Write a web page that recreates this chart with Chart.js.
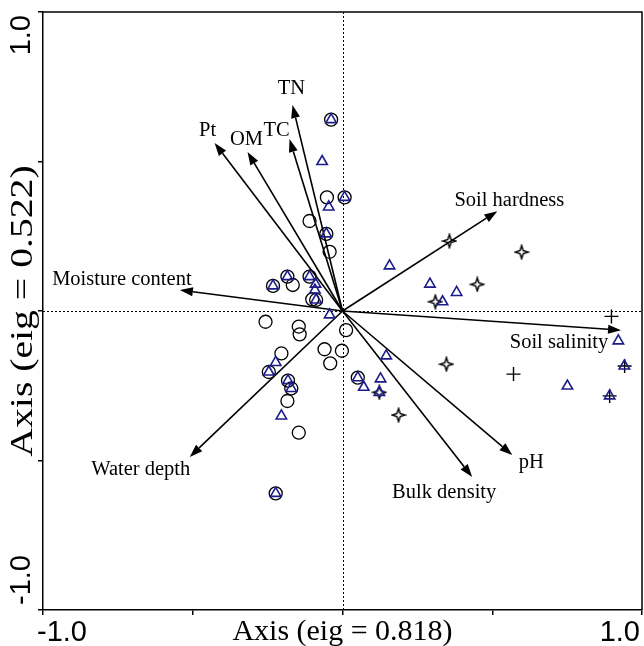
<!DOCTYPE html>
<html>
<head>
<meta charset="utf-8">
<script src="https://cdn.jsdelivr.net/npm/chart.js@4.4.0/dist/chart.umd.min.js"></script>
<style>
html, body { margin: 0; padding: 0; background: #fff; }
#wrap { width: 644px; height: 646px; }
</style>
</head>
<body>
<div id="wrap"><canvas id="cca"></canvas></div>
<script>
// site scores (axis 1, axis 2)
const circleX = [-0.038, -0.052, 0.007, -0.110, -0.054, -0.043, -0.184, -0.166, -0.232, -0.110, -0.101, -0.088, -0.257, -0.146, -0.143, 0.012, -0.060, -0.002, -0.041, -0.204, -0.246, -0.182, -0.171, -0.184, -0.146, -0.223, 0.051];
const circleY = [0.640, 0.380, 0.380, 0.301, 0.258, 0.198, 0.115, 0.087, 0.084, 0.115, 0.039, 0.037, -0.036, -0.052, -0.078, -0.064, -0.128, -0.133, -0.175, -0.142, -0.204, -0.233, -0.259, -0.301, -0.407, -0.610, -0.223];

const triX = [-0.038, -0.068, 0.007, -0.046, -0.054, -0.184, -0.232, -0.110, -0.090, -0.092, -0.088, -0.043, -0.223, -0.246, -0.182, -0.171, -0.204, -0.223, 0.051, 0.071, 0.127, 0.123, 0.146, 0.157, 0.292, 0.381, 0.334, 0.921, 0.941, 0.751, 0.892];
const triY = [0.640, 0.500, 0.380, 0.348, 0.258, 0.115, 0.084, 0.115, 0.090, 0.070, 0.037, -0.013, -0.172, -0.204, -0.233, -0.259, -0.351, -0.610, -0.223, -0.255, -0.227, -0.272, -0.150, 0.151, 0.090, 0.062, 0.031, -0.100, -0.184, -0.251, -0.284];

const starX = [0.357, 0.598, 0.450, 0.310, 0.347, 0.123, 0.187];
const starY = [0.234, 0.197, 0.089, 0.031, -0.178, -0.272, -0.348];

const plusX = [0.898, 0.571, 0.942, 0.892];
const plusY = [-0.018, -0.211, -0.184, -0.284];

// environmental variables (arrow tips)
const envNames = ['TN', 'TC', 'OM', 'Pt', 'Moisture content', 'Water depth', 'Soil hardness', 'Soil salinity', 'pH', 'Bulk density'];
const envX = [-0.167, -0.177, -0.317, -0.427, -0.543, -0.510, 0.517, 0.930, 0.567, 0.433];
const envY = [0.689, 0.575, 0.532, 0.562, 0.070, -0.488, 0.334, -0.064, -0.482, -0.555];

const tickLabels = ['-1.0', '1.0'];
const xTitle = 'Axis (eig = 0.818)';
const yTitle = 'Axis (eig = 0.522)';

// where each arrow label sits relative to its tip (px)
const labelOffsets = [[-1, -16], [-13, -8], [-1, -12], [-7, -12], [-58, -10], [-49, 13], [12, -11], [-62, 12], [19, 7], [-28, 16]];

const toPts = (xs, ys) => xs.map((x, i) => ({ x: x, y: ys[i] }));

function makeStar() {
    const c = document.createElement('canvas');
    c.width = 16; c.height = 16;
    const g = c.getContext('2d');
    g.strokeStyle = '#000';
    g.lineWidth = 1.5;
    g.beginPath();
    for (let i = 0; i < 8; i++) {
        const a = -Math.PI / 2 + i * Math.PI / 4;
        const r = i % 2 === 0 ? 6.5 : 2.3;
        const px = 8 + r * Math.cos(a), py = 8 + r * Math.sin(a);
        if (i === 0) g.moveTo(px, py); else g.lineTo(px, py);
    }
    g.closePath();
    g.stroke();
    return c;
}

const serif = '"Liberation Serif", "Times New Roman", serif';
const sans = '"Liberation Sans", Arial, sans-serif';

const ccaPlugin = {
    id: 'ccaPlugin',
    beforeDatasetsDraw(chart) {
        const ctx = chart.ctx;
        const xs = chart.scales.x, ys = chart.scales.y;
        const a = chart.chartArea;
        const x0 = xs.getPixelForValue(0), y0 = ys.getPixelForValue(0);
        ctx.save();
        // dotted zero lines
        ctx.strokeStyle = '#000';
        ctx.lineWidth = 1;
        ctx.setLineDash([2, 2]);
        ctx.beginPath();
        ctx.moveTo(Math.round(x0) + 0.5, a.top);
        ctx.lineTo(Math.round(x0) + 0.5, a.bottom);
        ctx.moveTo(a.left, Math.round(y0) + 0.5);
        ctx.lineTo(a.right, Math.round(y0) + 0.5);
        ctx.stroke();
        ctx.setLineDash([]);
        // arrows
        ctx.lineWidth = 1.6;
        ctx.fillStyle = '#000';
        envX.forEach((vx, i) => {
            const tx = xs.getPixelForValue(vx), ty = ys.getPixelForValue(envY[i]);
            const ang = Math.atan2(ty - y0, tx - x0);
            const hl = 13, hw = 4.5;
            const bx = tx - hl * Math.cos(ang), by = ty - hl * Math.sin(ang);
            ctx.beginPath();
            ctx.moveTo(x0, y0);
            ctx.lineTo(bx, by);
            ctx.stroke();
            ctx.beginPath();
            ctx.moveTo(tx, ty);
            ctx.lineTo(bx + hw * Math.sin(ang), by - hw * Math.cos(ang));
            ctx.lineTo(bx - hw * Math.sin(ang), by + hw * Math.cos(ang));
            ctx.closePath();
            ctx.fill();
            // label
            ctx.font = '20.5px ' + serif;
            ctx.textAlign = 'center';
            ctx.textBaseline = 'middle';
            ctx.fillText(envNames[i], tx + labelOffsets[i][0], ty + labelOffsets[i][1]);
        });
        ctx.restore();
    },
    afterDraw(chart) {
        const ctx = chart.ctx;
        const xs = chart.scales.x, ys = chart.scales.y;
        const a = chart.chartArea;
        ctx.save();
        // top and right frame
        ctx.strokeStyle = '#000';
        ctx.lineWidth = 1.5;
        ctx.beginPath();
        ctx.moveTo(a.left, a.top);
        ctx.lineTo(a.right, a.top);
        ctx.lineTo(a.right, a.bottom);
        ctx.stroke();
        ctx.fillStyle = '#000';
        // x tick labels
        ctx.font = '29px ' + sans;
        ctx.textBaseline = 'middle';
        ctx.textAlign = 'left';
        ctx.fillText(tickLabels[0], xs.getPixelForValue(-1) - 6, 633);
        ctx.textAlign = 'right';
        ctx.fillText(tickLabels[1], xs.getPixelForValue(1) - 2, 633);
        // y tick labels (rotated)
        ctx.save();
        ctx.translate(22, ys.getPixelForValue(1));
        ctx.rotate(-Math.PI / 2);
        ctx.textAlign = 'right';
        ctx.fillText(tickLabels[1], -3, 0);
        ctx.restore();
        ctx.save();
        ctx.translate(22, ys.getPixelForValue(-1));
        ctx.rotate(-Math.PI / 2);
        ctx.textAlign = 'left';
        ctx.fillText(tickLabels[0], 5, 0);
        ctx.restore();
        // axis titles
        ctx.font = '30px ' + serif;
        ctx.textAlign = 'center';
        ctx.fillText(xTitle, (a.left + a.right) / 2, 632);
        ctx.save();
        ctx.translate(24, (a.top + a.bottom) / 2);
        ctx.rotate(-Math.PI / 2);
        ctx.scale(1.28, 1);
        ctx.font = '31px ' + serif;
        ctx.fillText(yTitle, 0, 0);
        ctx.restore();
        ctx.restore();
    }
};

const navy = '#1c1c8a';

new Chart(document.getElementById('cca'), {
    type: 'scatter',
    data: {
        datasets: [
            {
                label: 'triangle',
                data: toPts(triX, triY),
                pointStyle: 'triangle',
                pointRadius: 6,
                borderColor: navy,
                backgroundColor: 'rgba(0,0,0,0)',
                borderWidth: 1.6
            },
            {
                label: 'circle',
                data: toPts(circleX, circleY),
                pointStyle: 'circle',
                pointRadius: 6.5,
                borderColor: '#000',
                backgroundColor: 'rgba(0,0,0,0)',
                borderWidth: 1.3
            },
            {
                label: 'star',
                data: toPts(starX, starY),
                pointStyle: makeStar(),
                pointRadius: 7
            },
            {
                label: 'plus',
                data: toPts(plusX, plusY),
                pointStyle: 'cross',
                pointRadius: 7,
                borderColor: '#000',
                borderWidth: 1.4
            }
        ]
    },
    options: {
        responsive: true,
        maintainAspectRatio: false,
        animation: false,
        layout: { autoPadding: false, padding: { top: 12, right: 2, left: 0, bottom: 0 } },
        plugins: {
            legend: { display: false },
            tooltip: { enabled: false }
        },
        scales: {
            x: {
                type: 'linear',
                min: -1, max: 1,
                ticks: { display: false, stepSize: 0.5 },
                grid: { drawOnChartArea: false, drawTicks: true, tickLength: 5, color: '#000', lineWidth: 1.5 },
                border: { color: '#000', width: 1.5 },
                afterFit(scale) { scale.height = 36; }
            },
            y: {
                type: 'linear',
                min: -1, max: 1,
                ticks: { display: false, stepSize: 0.5 },
                grid: { drawOnChartArea: false, drawTicks: true, tickLength: 5, color: '#000', lineWidth: 1.5 },
                border: { color: '#000', width: 1.5 },
                afterFit(scale) { scale.width = 43; }
            }
        }
    },
    plugins: [ccaPlugin]
});
</script>
</body>
</html>
